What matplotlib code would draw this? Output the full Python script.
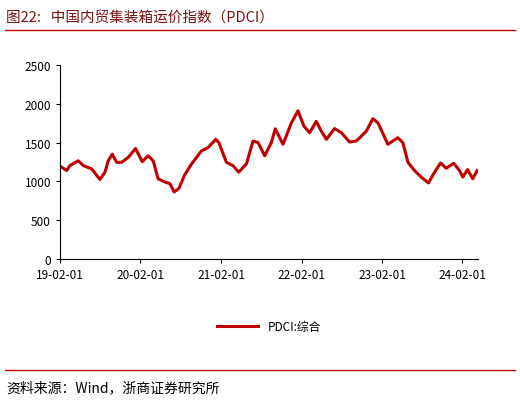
import matplotlib
matplotlib.use('Agg')
import matplotlib.pyplot as plt
import matplotlib.dates as mdates
import pandas as pd

plt.rcParams['font.family'] = ['Noto Sans CJK SC', 'DejaVu Sans']

# data
dates = ['2019-02-09', '2019-03-03', '2019-03-18', '2019-04-25', '2019-05-18', '2019-06-25',
         '2019-08-01', '2019-08-24', '2019-09-08', '2019-09-26', '2019-10-16', '2019-11-08',
         '2019-12-08', '2020-01-10', '2020-02-09', '2020-03-07', '2020-03-30', '2020-04-21',
         '2020-05-22', '2020-06-14', '2020-07-03', '2020-07-24', '2020-08-20', '2020-09-20',
         '2020-11-04', '2020-12-04', '2021-01-08', '2021-01-22', '2021-02-25', '2021-03-27',
         '2021-04-22', '2021-05-27', '2021-06-26', '2021-07-19', '2021-08-18', '2021-09-17',
         '2021-10-05', '2021-11-09', '2021-12-17', '2022-01-16', '2022-02-12', '2022-03-10',
         '2022-04-09', '2022-05-02', '2022-05-25', '2022-07-01', '2022-08-01', '2022-09-07',
         '2022-10-08', '2022-11-22', '2022-12-22', '2023-01-14', '2023-02-28', '2023-04-14',
         '2023-05-07', '2023-05-30', '2023-06-29', '2023-07-29', '2023-08-31', '2023-09-28',
         '2023-10-25', '2023-11-20', '2023-12-24', '2024-01-19', '2024-02-03', '2024-02-25',
         '2024-03-19', '2024-04-08']
pdci = [1183, 1140, 1203, 1266, 1203, 1161, 1025, 1119, 1266, 1351, 1246, 1246,
        1310, 1424, 1254, 1330, 1266, 1034, 992, 971, 865, 907, 1085, 1225,
        1393, 1436, 1542, 1500, 1246, 1203, 1119, 1225, 1520, 1500, 1330, 1500,
        1678, 1478, 1754, 1910, 1711, 1627, 1774, 1647, 1542, 1681, 1627, 1508,
        1520, 1647, 1808, 1754, 1478, 1563, 1500, 1246, 1140, 1056, 980, 1119,
        1237, 1170, 1234, 1140, 1056, 1152, 1034, 1140]
tick_dates = ['2019-02-01', '2020-02-01', '2021-02-01', '2022-02-01', '2023-02-01', '2024-02-01']
yticks = [0, 500, 1000, 1500, 2000, 2500]

red = '#C00000'
fig = plt.figure(figsize=(5.2, 4.02), dpi=100)
ax = fig.add_axes([60/520, 1 - 260/402, 418/520, 194/402])
ax.plot(pd.to_datetime(dates), pdci, color=red, lw=2.2)
ax.set_ylim(0, 2500)
ax.set_yticks(yticks)
ax.set_xlim(pd.Timestamp('2019-02-01'), pd.Timestamp('2024-04-12'))
ax.set_xticks(pd.to_datetime(tick_dates))
ax.xaxis.set_major_formatter(mdates.DateFormatter('%y-%m-%d'))
for s in ['top', 'right']:
    ax.spines[s].set_visible(False)
ax.tick_params(labelsize=8.5, direction='out', length=3)
ax.legend(['PDCI:综合'], loc='upper center', bbox_to_anchor=(0.5, -0.26),
          frameon=False, fontsize=8.5, handlelength=3.5)

fig.text(0.012, 0.955, '图22:   中国内贸集装箱运价指数（PDCI）', fontsize=10.5,
         color='#7A1010', va='center')
fig.add_artist(plt.Line2D([0.01, 0.99], [0.922, 0.922], color=red, lw=1))
fig.add_artist(plt.Line2D([0.01, 0.99], [0.078, 0.078], color=red, lw=1))
fig.text(0.012, 0.035, '资料来源：Wind，浙商证券研究所', fontsize=10, va='center')

fig.savefig('out.png', dpi=100)
